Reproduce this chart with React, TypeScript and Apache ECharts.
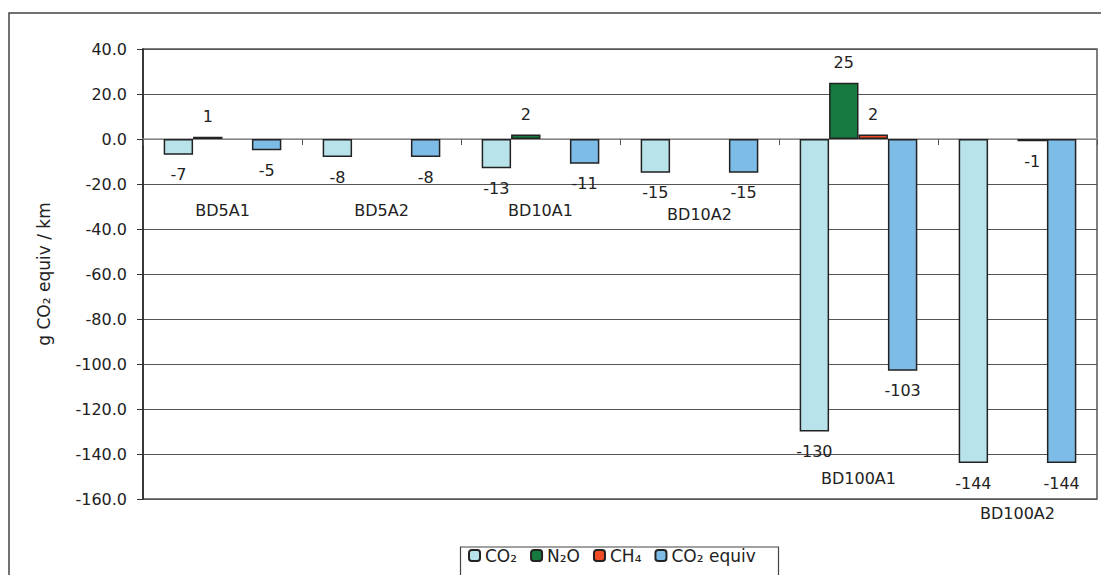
import React, { useEffect, useRef } from "react";
import * as echarts from "echarts";

const categories = ["BD5A1", "BD5A2", "BD10A1", "BD10A2", "BD100A1", "BD100A2"];
const co2 = [-7, -8, -13, -15, -130, -144];
const n2o: (number | null)[] = [1, null, 2, null, 25, null];
const ch4: (number | null)[] = [null, null, null, null, 2, -1];
const co2Equiv = [-5, -8, -11, -15, -103, -144];
const yTicks = { min: -160, max: 40, interval: 20 };

// styling: per-category vertical label offsets (px)
const catLabelPad = [3.5, 3.5, 3.5, 7.5, 271.5, 306.5];

const FONT = "DejaVu Sans, Liberation Sans, sans-serif";
const TXT = "#222";

function mkData(vals: (number | null)[]) {
  return vals.map((v) =>
    v === null
      ? { value: null }
      : { value: v, label: { position: v < 0 ? "bottom" : "top" } }
  );
}

export default function App() {
  const ref = useRef<HTMLDivElement>(null);
  useEffect(() => {
    if (!ref.current) return;
    const chart = echarts.init(ref.current, undefined, { renderer: "svg" });
    const barLabel = {
      show: true,
      distance: 12,
      color: TXT,
      fontSize: 16,
      fontFamily: FONT,
      formatter: (p: any) => (p.value === null || p.value === undefined ? "" : String(Math.round(p.value))),
    };
    const mkSeries = (name: string, vals: (number | null)[], color: string) => ({
      name,
      type: "bar",
      data: mkData(vals),
      barGap: "0%",
      barCategoryGap: "26%",
      itemStyle: { color, borderColor: "#222", borderWidth: 1.5 },
      label: barLabel,
    });
    const rich: any = {};
    catLabelPad.forEach((p, i) => {
      rich["c" + i] = { padding: [p, 0, 0, 0], fontSize: 16, fontFamily: FONT, color: TXT };
    });
    chart.setOption({
      animation: false,
      backgroundColor: "#fff",
      textStyle: { fontFamily: FONT },
      grid: {
        left: 143,
        right: 4,
        top: 49,
        bottom: 76,
        show: true,
        containLabel: false,
        outerBoundsMode: "none",
        borderColor: "#555",
        borderWidth: 1.5,
      },
      legend: {
        left: 468,
        top: 547,
        padding: 0,
        itemWidth: 11,
        itemHeight: 11,
        itemGap: 13,
        textStyle: { fontSize: 17, fontFamily: FONT, color: TXT },
        data: ["CO₂", "N₂O", "CH₄", "CO₂ equiv"],
      },
      xAxis: {
        type: "category",
        data: categories,
        axisLine: { onZero: true, lineStyle: { color: "#999", width: 1.5 } },
        axisTick: { show: true, length: 6, lineStyle: { color: "#555" } },
        axisLabel: {
          interval: 0,
          margin: -300,
          hideOverlap: false,
          formatter: (v: string, i: number) => `{c${i}|${v}}`,
          rich,
        },
      },
      yAxis: {
        type: "value",
        min: yTicks.min,
        max: yTicks.max,
        interval: yTicks.interval,
        name: "g CO₂ equiv / km",
        nameLocation: "middle",
        nameGap: 91,
        nameTextStyle: { fontSize: 17, fontFamily: FONT, color: TXT },
        axisLine: { show: true, lineStyle: { color: "#222", width: 1.5 } },
        axisTick: { show: true, length: 6, lineStyle: { color: "#333" } },
        axisLabel: {
          margin: 16,
          fontSize: 16,
          fontFamily: FONT,
          color: TXT,
          formatter: (v: number) => v.toFixed(1),
        },
        splitLine: { show: true, lineStyle: { color: "#555", width: 1.2 } },
      },
      graphic: [
        {
          type: "rect",
          shape: { x: 9, y: 13, width: 1100, height: 600 },
          style: { fill: "none", stroke: "#444", lineWidth: 1.5 },
          silent: true,
        },
        {
          type: "rect",
          shape: { x: 460.5, y: 547, width: 318, height: 60 },
          style: { fill: "none", stroke: "#444", lineWidth: 1.2 },
          silent: true,
        },
      ],
      series: [
        mkSeries("CO₂", co2, "#B9E3EA"),
        mkSeries("N₂O", n2o, "#167A3E"),
        mkSeries("CH₄", ch4, "#EE4B26"),
        mkSeries("CO₂ equiv", co2Equiv, "#7EBCE8"),
      ],
    });
    return () => chart.dispose();
  }, []);
  return (
    <div
      ref={ref}
      style={{ position: "fixed", left: 0, top: 0, width: 1101, height: 575, background: "#fff" }}
    />
  );
}
